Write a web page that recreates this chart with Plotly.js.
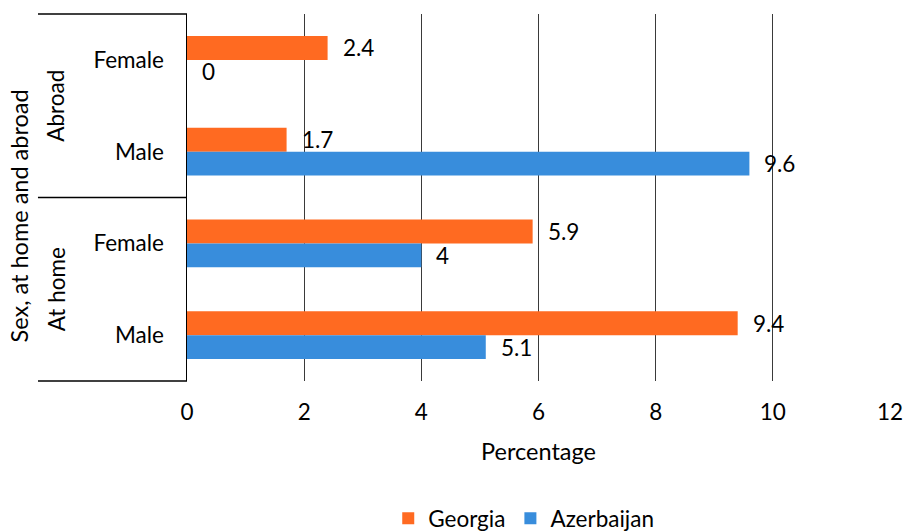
<!DOCTYPE html>
<html>
<head>
<meta charset="utf-8">
<script src="https://cdn.plot.ly/plotly-3.0.1.min.js"></script>
<style>html,body{margin:0;padding:0;background:#fff;}#chart{width:903px;height:532px;}</style>
</head>
<body>
<div id="chart"></div>
<script>
// ---- data ----
var groups = ['Abroad', 'Abroad', 'At home', 'At home'];
var sexes = ['Female', 'Male', 'Female', 'Male'];
var georgia = [2.4, 1.7, 5.9, 9.4];
var azerbaijan = [0, 9.6, 4, 5.1];
var seriesNames = ['Georgia', 'Azerbaijan'];
var xTicks = [0, 2, 4, 6, 8, 10, 12];
var groupNames = ['Abroad', 'At home'];
var yTitle = 'Sex, at home and abroad';
var xTitle = 'Percentage';

// ---- build ----
var FONT = 'Lato, "Open Sans", sans-serif';
var FS = 22.5;
var cats = groups.map(function (g, i) { return g + ' | ' + sexes[i]; });
var orange = '#FF6A21';
var blue = '#388DDC';

var traces = [
  {type: 'bar', orientation: 'h', name: seriesNames[0], x: georgia, y: cats,
   marker: {color: orange}, hoverinfo: 'x+name'},
  {type: 'bar', orientation: 'h', name: seriesNames[1], x: azerbaijan, y: cats,
   marker: {color: blue}, hoverinfo: 'x+name'}
];

var annotations = [];
[georgia, azerbaijan].forEach(function (vals, s) {
  vals.forEach(function (v, i) {
    annotations.push({
      x: v, y: cats[i], xref: 'x', yref: 'y', text: String(v),
      showarrow: false, xanchor: 'left', yanchor: 'middle',
      xshift: 13, yshift: s === 0 ? 12 : -12,
      font: {family: FONT, size: FS, color: '#000'}
    });
  });
});
// group labels (rotated)
groupNames.forEach(function (g) {
  var idx = [];
  groups.forEach(function (gg, i) { if (gg === g) idx.push(i); });
  var n = groups.length;
  var mid = 1 - ((idx[0] + idx[idx.length - 1]) / 2 + 0.5) / n;
  annotations.push({
    x: 0, y: mid, xref: 'paper', yref: 'paper', text: g, textangle: -90,
    showarrow: false, xanchor: 'center', yanchor: 'middle', xshift: -131,
    font: {family: FONT, size: FS, color: '#000'}
  });
});
annotations.push({
  x: 0, y: 0.5, xref: 'paper', yref: 'paper', text: yTitle, textangle: -90,
  showarrow: false, xanchor: 'center', yanchor: 'middle', xshift: -169, yshift: -19,
  font: {family: FONT, size: 23.5, color: '#000'}
});

var lineStyle = {color: '#000', width: 1.5};
var leftX = -0.212;
var shapes = [1, 0.5, 0].map(function (yy) {
  return {type: 'line', xref: 'paper', yref: 'paper', x0: leftX, x1: 0, y0: yy, y1: yy, line: lineStyle};
});

var layout = {
  width: 903, height: 532,
  margin: {l: 187, r: 13, t: 14, b: 151},
  paper_bgcolor: '#fff', plot_bgcolor: '#fff',
  font: {family: FONT, size: FS, color: '#000'},
  barmode: 'group', bargap: 0.477, bargroupgap: 0,
  xaxis: {
    range: [0, 12], tickvals: xTicks, ticktext: xTicks.map(String),
    showgrid: true, gridcolor: '#3a3a3a', gridwidth: 1,
    zeroline: false, showline: false, ticks: '',
    ticklabelstandoff: 15, ticklabeloverflow: 'allow',
    tickfont: {family: FONT, size: FS, color: '#000'},
    title: {text: xTitle, standoff: 20, font: {family: FONT, size: 23.5, color: '#000'}},
    automargin: false, fixedrange: true
  },
  yaxis: {
    type: 'category', categoryorder: 'array', categoryarray: cats,
    autorange: 'reversed',
    tickvals: cats, ticktext: sexes, ticks: '',
    showgrid: false, zeroline: false,
    showline: true, linecolor: '#000', linewidth: 1.5,
    ticklabelstandoff: 17,
    tickfont: {family: FONT, size: FS, color: '#000'},
    automargin: false, fixedrange: true
  },
  legend: {
    orientation: 'h', xref: 'container', yref: 'container',
    x: 0.58, y: 0.025, xanchor: 'center', yanchor: 'middle',
    font: {family: FONT, size: FS, color: '#000'},
    itemclick: false
  },
  showlegend: true,
  annotations: annotations,
  shapes: shapes
};

Plotly.newPlot('chart', traces, layout, {displayModeBar: false, staticPlot: true});
</script>
</body>
</html>
